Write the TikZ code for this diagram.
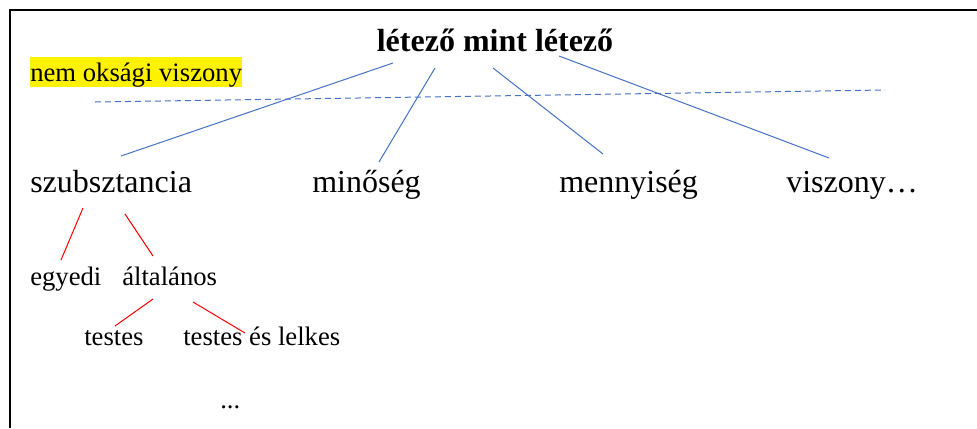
\documentclass[tikz,border=0pt]{standalone}
\usepackage{fontspec}
\setmainfont{Liberation Serif}
\definecolor{linkblue}{HTML}{4472C4}
\begin{document}
\begin{tikzpicture}[x=0.75pt, y=-0.75pt,
    big/.style={anchor=base west, inner sep=0pt, font=\fontsize{24}{28}\selectfont},
    small/.style={anchor=base west, inner sep=0pt, font=\fontsize{20}{24}\selectfont},
    link/.style={linkblue, line width=0.75pt},
    sublink/.style={red, line width=0.75pt}
]
    \useasboundingbox (0,0) rectangle (977,428);

    % Frame
    \draw[line width=1pt] (10,428) -- (10,10) -- (977,10);

    % Top concept and note
    \node[big, anchor=base, font=\fontsize{24}{28}\selectfont\bfseries] (ens) at (495,52) {létező mint létező};
    \node[small, fill=yellow, text height=17.8pt, text depth=4.3pt] (note) at (30,81) {nem oksági viszony};

    % Categories
    \node[big] (subst) at (30,192) {szubsztancia};
    \node[big] (qual) at (312,192) {minőség};
    \node[big] (quant) at (559,192) {mennyiség};
    \node[big] (rel) at (786,192) {viszony…};

    % Kinds of substance
    \node[small] (indiv) at (30,285) {egyedi};
    \node[small] (univ) at (122,285) {általános};
    \node[small] (body) at (84,345) {testes};
    \node[small] (soul) at (183,345) {testes és lelkes};
    \node[small] (more) at (220,408) {...};

    % Dividing line
    \coordinate (divl) at (95,102);
    \coordinate (divr) at (885,90);
    \draw[link, dash pattern=on 4.5pt off 3pt] (divl) -- (divr);

    % Links to categories
    \draw[link] ([shift={(-102,11)}]ens.base) -- ([shift={(91,-36)}]subst.base west);
    \draw[link] ([shift={(-60,16)}]ens.base) -- ([shift={(67,-30)}]qual.base west);
    \draw[link] ([shift={(-2,16)}]ens.base) -- ([shift={(44,-38)}]quant.base west);
    \draw[link] ([shift={(64,4)}]ens.base) -- ([shift={(43,-34)}]rel.base west);

    % Links below substance
    \draw[sublink] ([shift={(53,16)}]subst.base west) -- ([shift={(31,-25)}]indiv.base west);
    \draw[sublink] ([shift={(95,22)}]subst.base west) -- ([shift={(31,-29)}]univ.base west);
    \draw[sublink] ([shift={(31,14)}]univ.base west) -- ([shift={(31,-19)}]body.base west);
    \draw[sublink] ([shift={(71,17)}]univ.base west) -- ([shift={(62,-12)}]soul.base west);

\end{tikzpicture}
\end{document}
